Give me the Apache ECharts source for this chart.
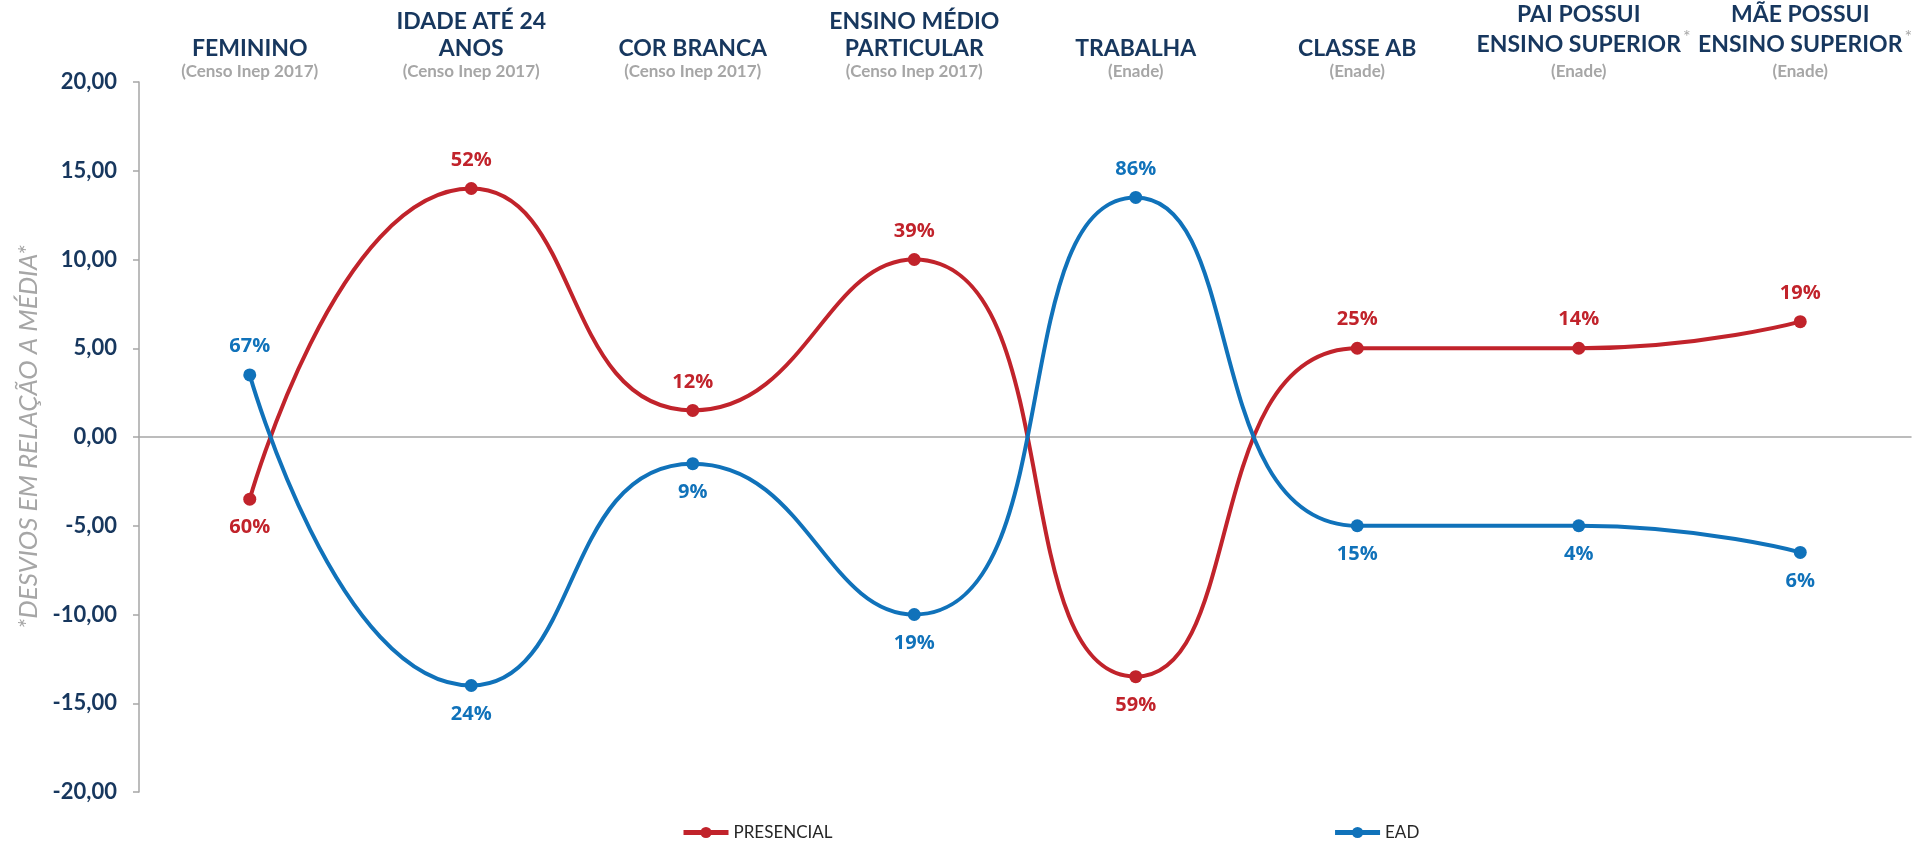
<!DOCTYPE html>
<html>
<head>
<meta charset="utf-8">
<script src="https://cdn.jsdelivr.net/npm/echarts@6/dist/echarts.min.js"></script>
<style>
  html, body { margin: 0; padding: 0; background: #fff; }
  #chart { width: 1919px; height: 847px; }
</style>
</head>
<body>
<div id="chart"></div>
<script>
// categories (title lines) and their source
const categories = [
  ['FEMININO'],
  ['IDADE ATÉ 24', 'ANOS'],
  ['COR BRANCA'],
  ['ENSINO MÉDIO', 'PARTICULAR'],
  ['TRABALHA'],
  ['CLASSE AB'],
  ['PAI POSSUI', 'ENSINO SUPERIOR'],
  ['MÃE POSSUI', 'ENSINO SUPERIOR']
];
const sources = ['Censo Inep 2017', 'Censo Inep 2017', 'Censo Inep 2017', 'Censo Inep 2017', 'Enade', 'Enade', 'Enade', 'Enade'];
const starred = [false, false, false, false, false, false, true, true];

// desvios em relação à média
const presencial = [-3.5, 14, 1.5, 10, -13.5, 5, 5, 6.5];
const ead = [3.5, -14, -1.5, -10, 13.5, -5, -5, -6.5];

// percent labels shown on the points
const presencialPct = ['60%', '52%', '12%', '39%', '59%', '25%', '14%', '19%'];
const eadPct = ['67%', '24%', '9%', '19%', '86%', '15%', '4%', '6%'];

const yTicks = { min: -20, max: 20, interval: 5 };

const RED = '#C1232B';
const BLUE = '#1072BA';
const NAVY = '#17375E';
const GRAY = '#A6A6A6';

const catKeys = categories.map((c, i) => 'c' + i);

function headerLabel (key) {
  const i = catKeys.indexOf(key);
  const lines = categories[i].map((t, j) => {
    const last = j === categories[i].length - 1;
    if (last && starred[i]) return '{h|*}{t|' + t + '}{a|*}';
    return '{t|' + t + '}';
  });
  lines.push('{s|(' + sources[i] + ')}');
  return lines.join('\n');
}

function makeSeries (name, values, pct, color) {
  return {
    name: name,
    type: 'line',
    smooth: 0.55,
    symbol: 'circle',
    symbolSize: 13,
    data: values.map(v => ({
      value: v,
      label: { position: v >= 0 ? 'top' : 'bottom' }
    })),
    itemStyle: { color: color },
    lineStyle: { color: color, width: 4 },
    label: {
      show: true,
      distance: 12,
      color: color,
      fontFamily: 'Open Sans',
      fontWeight: 'bold',
      fontSize: 20,
      formatter: p => pct[p.dataIndex]
    },
    z: 3
  };
}

const chart = echarts.init(document.getElementById('chart'));
chart.setOption({
  animation: false,
  color: [RED, BLUE],
  grid: { left: 139, right: 8, top: 82, bottom: 55 },
  legend: {
    bottom: 1,
    left: 676,
    itemGap: 500,
    itemWidth: 45,
    itemHeight: 14,
    lineStyle: { width: 5 },
    textStyle: { fontFamily: 'Lato', fontSize: 17, color: '#262626' },
    data: ['PRESENCIAL', 'EAD']
  },
  xAxis: [
    {
      type: 'category',
      data: catKeys,
      axisLine: { onZero: true, lineStyle: { color: GRAY, width: 1.5 } },
      axisTick: { show: false },
      axisLabel: { show: false }
    },
    {
      type: 'category',
      position: 'top',
      data: catKeys,
      axisLine: { show: false },
      axisTick: { show: false },
      axisLabel: {
        interval: 0,
        margin: 0,
        formatter: headerLabel,
        rich: {
          t: { fontFamily: 'Lato', fontWeight: 'bold', fontSize: 23, lineHeight: 27, color: NAVY },
          s: { fontFamily: 'Lato', fontWeight: 'bold', fontSize: 17, lineHeight: 20, color: GRAY },
          a: { fontFamily: 'Lato', fontSize: 18, color: GRAY, padding: [0, 0, 16, 2] },
          h: { fontFamily: 'Lato', fontSize: 18, color: 'rgba(0,0,0,0)', padding: [0, 2, 16, 0] }
        }
      }
    }
  ],
  yAxis: {
    type: 'value',
    min: yTicks.min,
    max: yTicks.max,
    interval: yTicks.interval,
    name: '*DESVIOS EM RELAÇÃO A MÉDIA*',
    nameLocation: 'middle',
    nameGap: 96,
    nameRotate: 90,
    nameTextStyle: { fontFamily: 'Lato', fontStyle: 'italic', fontSize: 26, color: GRAY },
    axisLine: { show: true, lineStyle: { color: GRAY, width: 1.5 } },
    axisTick: { show: true, inside: false, length: 6, lineStyle: { color: GRAY, width: 1.5 } },
    splitLine: { show: false },
    axisLabel: {
      margin: 22,
      fontFamily: 'Lato',
      fontWeight: 'bold',
      fontSize: 22,
      color: NAVY,
      formatter: v => v.toFixed(2).replace('.', ',')
    }
  },
  series: [
    makeSeries('PRESENCIAL', presencial, presencialPct, RED),
    makeSeries('EAD', ead, eadPct, BLUE)
  ]
});
</script>
</body>
</html>
